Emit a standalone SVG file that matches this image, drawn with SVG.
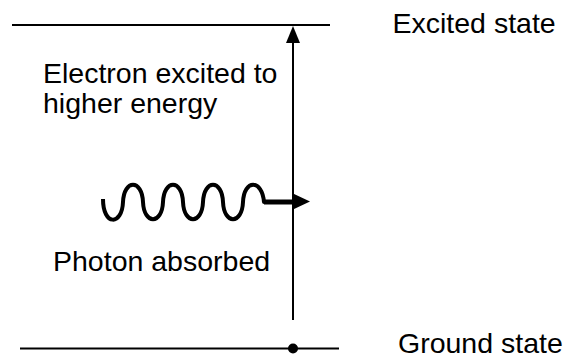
<svg xmlns="http://www.w3.org/2000/svg" width="566" height="359" viewBox="0 0 566 359">
<style>
.lbl{font-family:"Liberation Sans",Arial,sans-serif;font-size:28.5px;fill:#000}
.ln{stroke:#000;stroke-width:2;fill:none}
</style>
<rect width="566" height="359" fill="#fff"/>
<g id="excited-level">
<line class="ln" x1="12" y1="25" x2="330" y2="25"/>
<text class="lbl" x="392.5" y="32.5">Excited state</text>
</g>
<g id="ground-level">
<line class="ln" x1="20" y1="348.5" x2="339" y2="348.5"/>
<circle cx="293" cy="348.5" r="5" fill="#000"/>
<text class="lbl" x="398" y="353">Ground state</text>
</g>
<g id="excitation-label">
<text class="lbl" x="43" y="83">Electron excited to</text>
<text class="lbl" x="43" y="113">higher energy</text>
</g>
<g id="photon">
<path d="M103,199 C103,226 122,226 123,202 C124,179 142,179 143,202 C144,225 162,225 163,202 C164,179 182,179 183,202 C184,225 202,225 203,202 C204,179 222,179 223,202 C224,225 242,225 243,202 C244,179 262,179 264,202 L294,202" fill="none" stroke="#000" stroke-width="4" stroke-linejoin="round"/>
<line x1="264" y1="202" x2="294" y2="202" stroke="#000" stroke-width="5"/>
<polygon points="310,201.5 293,193.5 293,209.5" fill="#000"/>
<text class="lbl" x="53" y="271">Photon absorbed</text>
</g>
<g id="connectors">
<line class="ln" x1="293" y1="320" x2="293" y2="41"/>
<polygon points="293,26 286,43 300,43" fill="#000"/>
</g>
</svg>
